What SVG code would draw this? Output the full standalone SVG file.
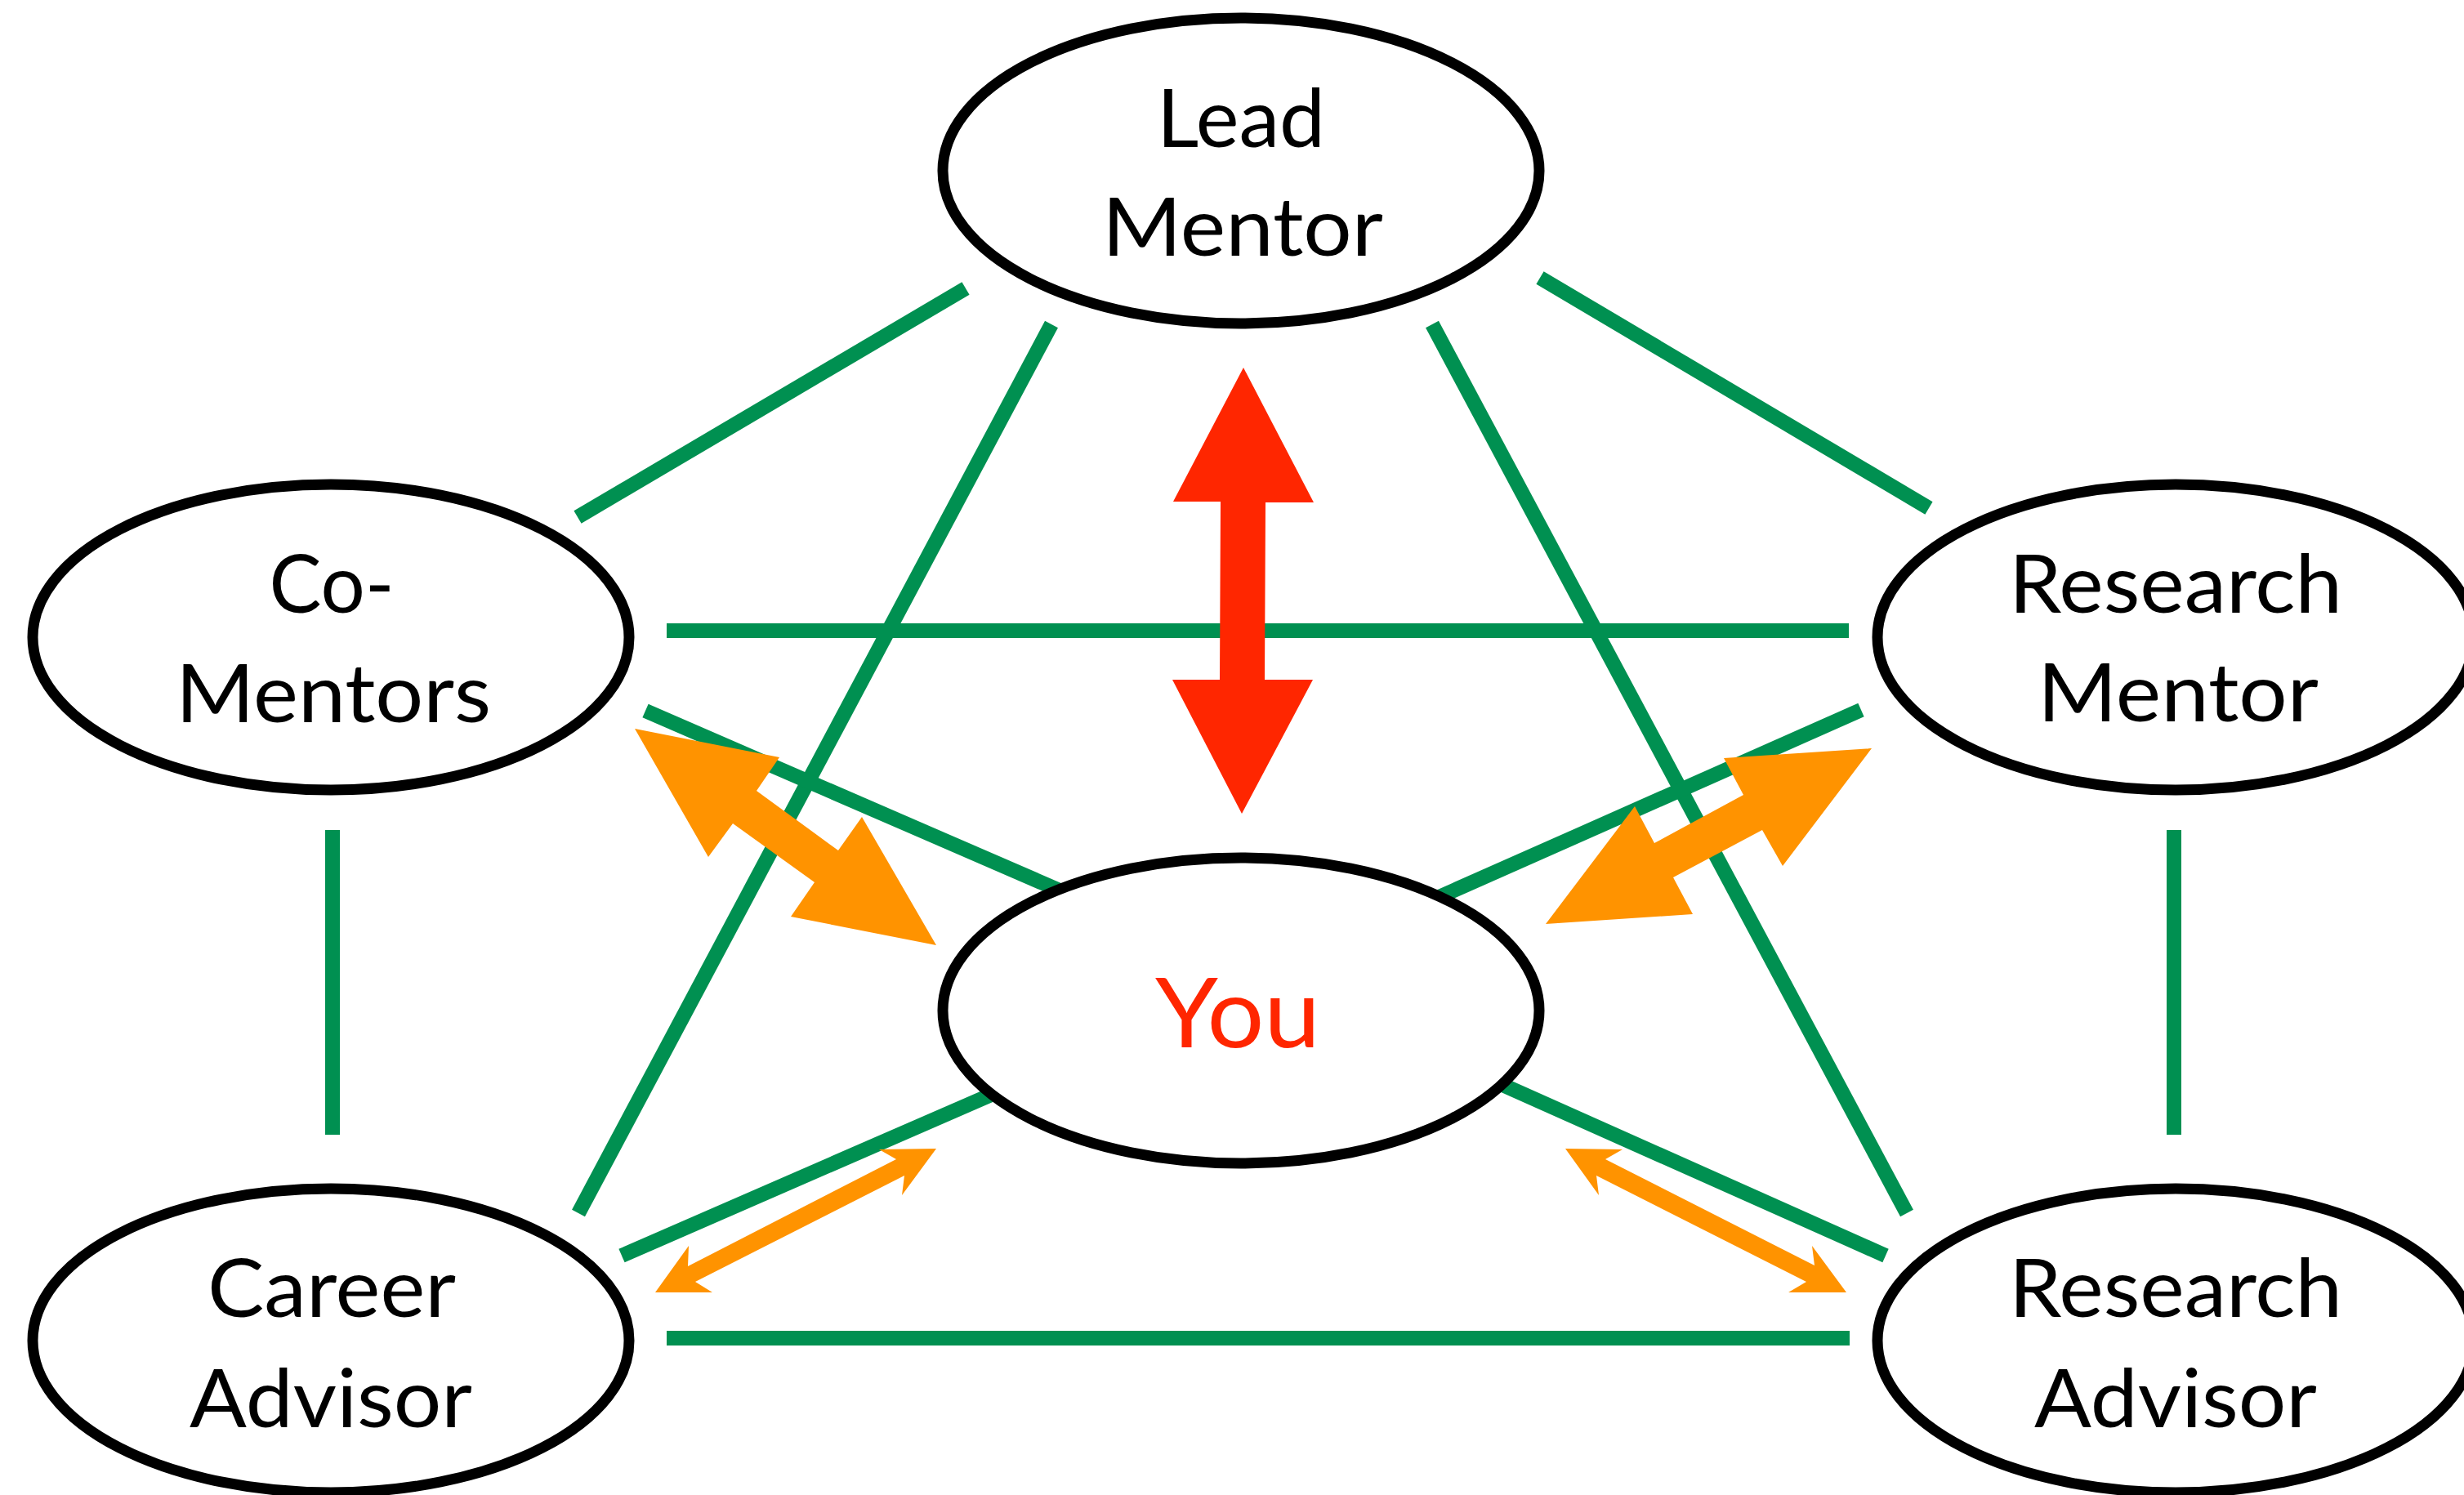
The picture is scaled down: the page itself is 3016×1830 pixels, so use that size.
<svg xmlns="http://www.w3.org/2000/svg" width="3016" height="1830" viewBox="0 0 3016 1830">
  <style>
    .link { stroke: #009051; stroke-width: 18; stroke-linecap: butt; fill: none; }
    .node { fill: #ffffff; stroke: #000000; stroke-width: 13; }
    .label { font-family: Lato, "Open Sans", "Liberation Sans", sans-serif; font-size: 98px; fill: #000000; text-anchor: middle; }
    .you { font-size: 118px; fill: #FF2600; }
    .pair { fill: #FF9300; }
    .core { fill: #FF2600; }
  </style>

  <rect x="0" y="0" width="3016" height="1830" fill="#ffffff"/>

  <!-- relationship lines between the mentoring roles -->
  <g id="connectors">
    <line class="link" x1="1182" y1="353" x2="707" y2="633"/>
    <line class="link" x1="1885" y1="340" x2="2361" y2="622"/>
    <line class="link" x1="1287" y1="397" x2="708" y2="1485"/>
    <line class="link" x1="1753" y1="397" x2="2334" y2="1485"/>
    <line class="link" x1="816" y1="772" x2="2263" y2="772"/>
    <line class="link" x1="816" y1="1638" x2="2264" y2="1638"/>
    <line class="link" x1="407" y1="1016" x2="407" y2="1389"/>
    <line class="link" x1="2661" y1="1016" x2="2661" y2="1389"/>
    <line class="link" x1="790" y1="870" x2="1320" y2="1100"/>
    <line class="link" x1="2278" y1="869" x2="1730" y2="1112"/>
    <line class="link" x1="761" y1="1537" x2="1250" y2="1324"/>
    <line class="link" x1="2308" y1="1537" x2="1790" y2="1306"/>
  </g>

  <g id="node-lead-mentor">
    <ellipse class="node" cx="1519" cy="209" rx="365" ry="187"/>
    <text class="label" x="1519" y="180" textLength="206" lengthAdjust="spacingAndGlyphs">Lead</text>
    <text class="label" x="1521" y="313" textLength="344" lengthAdjust="spacingAndGlyphs">Mentor</text>
  </g>

  <g id="node-co-mentors">
    <ellipse class="node" cx="405" cy="780" rx="365" ry="187"/>
    <text class="label" x="406" y="750" textLength="153" lengthAdjust="spacingAndGlyphs">Co-</text>
    <text class="label" x="408" y="884" textLength="386" lengthAdjust="spacingAndGlyphs">Mentors</text>
  </g>

  <g id="node-research-mentor">
    <ellipse class="node" cx="2663" cy="780" rx="365" ry="187"/>
    <text class="label" x="2663" y="750" textLength="408" lengthAdjust="spacingAndGlyphs">Research</text>
    <text class="label" x="2666" y="883" textLength="344" lengthAdjust="spacingAndGlyphs">Mentor</text>
  </g>

  <g id="node-you">
    <ellipse class="node" cx="1519" cy="1237" rx="365" ry="187"/>
    <text class="label you" x="1515" y="1282" textLength="202" lengthAdjust="spacingAndGlyphs">You</text>
  </g>

  <g id="node-career-advisor">
    <ellipse class="node" cx="405" cy="1641" rx="365" ry="186"/>
    <text class="label" x="406" y="1612" textLength="304" lengthAdjust="spacingAndGlyphs">Career</text>
    <text class="label" x="405" y="1747" textLength="346" lengthAdjust="spacingAndGlyphs">Advisor</text>
  </g>

  <g id="node-research-advisor">
    <ellipse class="node" cx="2663" cy="1641" rx="365" ry="186"/>
    <text class="label" x="2663" y="1612" textLength="408" lengthAdjust="spacingAndGlyphs">Research</text>
    <text class="label" x="2663" y="1747" textLength="346" lengthAdjust="spacingAndGlyphs">Advisor</text>
  </g>

  <!-- two-way arrows between You and each role -->
  <g id="arrows">
    <polygon class="core" points="1522,450 1608,615 1549,615 1548,832 1607,832 1520,996 1435,832 1493,832 1494,614 1436,614"/>
    <polygon class="pair" points="777,892 954,927 926,968 1026,1041 1055,1000 1146,1157 968,1122 997,1080 897,1008 867,1049"/>
    <polygon class="pair" points="2291,916 2110,928 2134,973 2025,1032 2001,987 1892,1131 2072,1119 2048,1074 2157,1016 2182,1060"/>
    <polygon class="pair" points="1146,1406 1076,1407 1097,1419 842,1550 843,1525 802,1582 872,1582 851,1569 1107,1439 1104,1463"/>
    <polygon class="pair" points="1916,1406 1986,1407 1965,1419 2221,1549 2218,1525 2260,1582 2189,1582 2211,1569 1954,1439 1957,1463"/>
  </g>
</svg>
